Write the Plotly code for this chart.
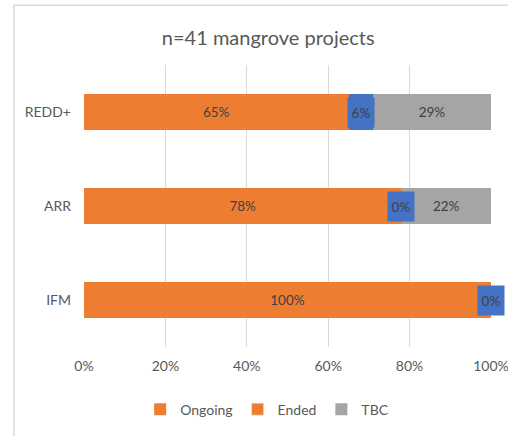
import plotly.graph_objects as go

categories = ["IFM", "ARR", "REDD+"]
ongoing = [100, 78, 65]
ended = [0, 0, 6]
tbc = [0, 22, 29]
series_names = ["Ongoing", "Ended", "TBC"]
tick_vals = [0, 20, 40, 60, 80, 100]
tick_text = ["0%", "20%", "40%", "60%", "80%", "100%"]

ORANGE = "#ED7D31"
BLUE = "#4472C4"
GRAY = "#A5A5A5"
TXT = "#595959"
FONT = "Lato"

fig = go.Figure()

def labels(vals):
    return [f"{v}%" if v > 0 else "" for v in vals]

fig.add_trace(go.Bar(
    y=categories, x=ongoing, name=series_names[0], orientation="h",
    marker=dict(color=ORANGE, line=dict(width=0)), legendrank=1,
    text=labels(ongoing), textposition="inside", insidetextanchor="middle",
    textfont=dict(color="#404040", size=13.5, family=FONT), width=0.39,
))
fig.add_trace(go.Bar(
    y=categories, x=ended, name=series_names[1], orientation="h",
    marker=dict(color=BLUE, line=dict(width=0)), showlegend=False, width=0.39,
))
fig.add_trace(go.Bar(
    y=categories, x=tbc, name=series_names[2], orientation="h",
    marker=dict(color=GRAY, line=dict(width=0)), legendrank=3,
    text=labels(tbc), textposition="inside", insidetextanchor="middle",
    textfont=dict(color="#404040", size=13.5, family=FONT), width=0.39,
))
# legend-only entry for "Ended" (shown orange as in the original legend)
fig.add_trace(go.Bar(
    y=[None], x=[None], name=series_names[1], orientation="h",
    marker=dict(color=ORANGE), legendrank=2,
))

# Ended data labels with blue label boxes
for cat, o, e in zip(categories, ongoing, ended):
    fig.add_annotation(
        x=o + e / 2, y=cat, xref="x", yref="y", text=f"{e}%", showarrow=False,
        bgcolor=BLUE, font=dict(color="#404040", size=13.5, family=FONT),
        width=22, height=25, borderpad=2,
    )

fig.update_layout(
    barmode="stack",
    width=508, height=436,
    margin=dict(l=84, r=17, t=65, b=89, autoexpand=False),
    paper_bgcolor="white", plot_bgcolor="white",
    title=dict(text="n=41 mangrove projects", x=0.528, xanchor="center",
               xref="container", y=0.912, yanchor="middle",
               font=dict(size=20, color=TXT, family=FONT)),
    font=dict(family=FONT, color=TXT, size=14),
    showlegend=True,
    legend=dict(orientation="h", x=0.45, xanchor="center", y=-0.165, yanchor="top",
                font=dict(size=14, color=TXT, family=FONT), traceorder="normal",
                itemwidth=30, tracegroupgap=0),
    bargap=0.61,
    shapes=[dict(type="rect", xref="paper", yref="paper",
                 x0=-0.172, x1=1.1, y0=-0.5, y1=1.212,
                 line=dict(color="#D9D9D9", width=1.5), fillcolor="rgba(0,0,0,0)",
                 layer="below")],
)
fig.update_xaxes(range=[0, 100], tickvals=tick_vals, ticktext=tick_text,
                 showgrid=True, gridcolor="#D9D9D9", gridwidth=1,
                 zeroline=False, showline=False, ticks="", ticklabeloverflow="allow",
                 tickfont=dict(size=14, color=TXT, family=FONT), ticklabelstandoff=9)
fig.update_yaxes(categoryorder="array", categoryarray=categories,
                 showgrid=False, zeroline=False, showline=False, ticks="",
                 tickfont=dict(size=14, color=TXT, family=FONT), ticklabelstandoff=12)

fig.write_html("out.html")
